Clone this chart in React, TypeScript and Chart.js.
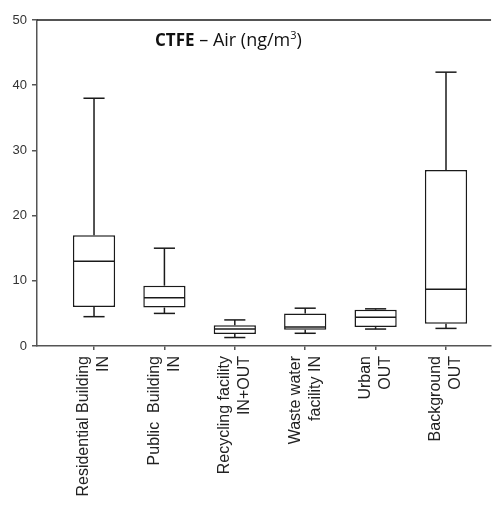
import React, { useEffect, useRef } from "react";
import { Chart, registerables } from "chart.js";

Chart.register(...registerables);

// ---- data ----
const categories: string[][] = [
  ["Residential Building", "IN"],
  ["Public  Building", "IN"],
  ["Recycling facility", "IN+OUT"],
  ["Waste water", "facility IN"],
  ["Urban", "OUT"],
  ["Background", "OUT"],
];
const positions = [1, 2, 3, 4, 5, 6];
const whiskerLow = [4.5, 5.0, 1.3, 1.95, 2.6, 2.7];
const q1 = [6.0, 5.9, 1.85, 2.5, 2.9, 3.4];
const median = [13.0, 7.4, 2.6, 2.9, 4.4, 8.7];
const q3 = [17.0, 9.25, 3.2, 5.0, 5.57, 27.0];
const whiskerHigh = [38.0, 15.0, 4.0, 5.8, 5.7, 42.0];
const yTicks = [0, 10, 20, 30, 40, 50];

// ---- styles ----
const BOX_WIDTH = 0.6; // in x units
const LINE = "#1a1a1a";
const AXIS = "#555555";
const FONT = "'Liberation Sans', Arial, sans-serif";

const boxParts = {
  id: "boxParts",
  afterDatasetsDraw(chart: any) {
    const { ctx, scales } = chart;
    const x = scales.x;
    const y = scales.y;
    ctx.save();
    ctx.strokeStyle = LINE;
    ctx.lineWidth = 1.5;
    const seg = (x1: number, y1: number, x2: number, y2: number) => {
      ctx.beginPath();
      ctx.moveTo(x1, y1);
      ctx.lineTo(x2, y2);
      ctx.stroke();
    };
    positions.forEach((p, i) => {
      const cx = x.getPixelForValue(p);
      const half = x.getPixelForValue(p + BOX_WIDTH / 2) - cx;
      const cap = half / 2;
      const ym = y.getPixelForValue(median[i]);
      seg(cx - half + 0.75, ym, cx + half - 0.75, ym);
      const yq3 = y.getPixelForValue(q3[i]);
      const yhi = y.getPixelForValue(whiskerHigh[i]);
      const yq1 = y.getPixelForValue(q1[i]);
      const ylo = y.getPixelForValue(whiskerLow[i]);
      seg(cx, yq3, cx, yhi);
      seg(cx - cap, yhi, cx + cap, yhi);
      seg(cx, yq1, cx, ylo);
      seg(cx - cap, ylo, cx + cap, ylo);
    });
    ctx.restore();
  },
};

const frameAndTitle = {
  id: "frameAndTitle",
  afterDraw(chart: any) {
    const { ctx, chartArea } = chart;
    ctx.save();
    ctx.strokeStyle = LINE;
    ctx.lineWidth = 1.5;
    ctx.beginPath();
    ctx.moveTo(chartArea.left, chartArea.top);
    ctx.lineTo(chartArea.right, chartArea.top);
    ctx.stroke();

    ctx.fillStyle = "#111";
    ctx.textBaseline = "alphabetic";
    ctx.textAlign = "left";
    let tx = chartArea.left + 118;
    const ty = chartArea.top + 26;
    ctx.font = "bold 17px 'Open Sans', sans-serif";
    ctx.fillText("CTFE", tx, ty);
    tx += ctx.measureText("CTFE").width;
    ctx.font = "18px 'Open Sans', sans-serif";
    const mid = " \u2013 Air (ng/m";
    ctx.fillText(mid, tx, ty);
    tx += ctx.measureText(mid).width;
    ctx.font = "11px 'Open Sans', sans-serif";
    ctx.fillText("3", tx, ty - 7);
    tx += ctx.measureText("3").width;
    ctx.font = "18px 'Open Sans', sans-serif";
    ctx.fillText(")", tx, ty);
    ctx.restore();
  },
};

export default function App() {
  const ref = useRef<HTMLCanvasElement | null>(null);

  useEffect(() => {
    if (!ref.current) return;
    const chart = new Chart(ref.current, {
      type: "bar",
      data: {
        datasets: [
          {
            data: positions.map((p, i) => ({ x: p, y: [q1[i], q3[i]] })) as any,
            backgroundColor: "#ffffff",
            borderColor: LINE,
            borderWidth: 1.5,
            borderSkipped: false,
            categoryPercentage: 1,
            barPercentage: BOX_WIDTH,
          },
        ],
      },
      options: {
        animation: false,
        responsive: true,
        maintainAspectRatio: false,
        layout: { padding: { top: 20, left: 0, right: 0, bottom: 0 } },
        plugins: {
          legend: { display: false },
          tooltip: { enabled: false },
          title: { display: false },
        },
        scales: {
          x: {
            type: "linear",
            min: 0.19,
            max: 6.64,
            offset: false,
            afterBuildTicks: (s: any) => {
              s.ticks = positions.map((v) => ({ value: v }));
            },
            ticks: {
              autoSkip: false,
              minRotation: 90,
              maxRotation: 90,
              labelOffset: -10,
              padding: 6,
              color: "#222",
              font: { family: FONT, size: 16, lineHeight: 1.25 },
              callback: (v: any) => {
                const idx = positions.indexOf(Number(v));
                return idx >= 0 ? categories[idx] : "";
              },
            },
            grid: {
              offset: false,
              drawOnChartArea: false,
              drawTicks: true,
              tickLength: 4,
              color: AXIS,
              lineWidth: 1.5,
            },
            border: { color: AXIS, width: 1.5 },
            afterFit: (s: any) => {
              s.height = 159;
            },
          },
          y: {
            min: 0,
            max: 50,
            afterBuildTicks: (s: any) => {
              s.ticks = yTicks.map((v) => ({ value: v }));
            },
            ticks: {
              padding: 5,
              color: "#333",
              font: { family: FONT, size: 13 },
            },
            grid: {
              drawOnChartArea: false,
              drawTicks: true,
              tickLength: 5,
              color: AXIS,
              lineWidth: 1.5,
            },
            border: { color: AXIS, width: 1.5 },
            afterFit: (s: any) => {
              s.width = 37;
            },
          },
        },
      } as any,
      plugins: [boxParts, frameAndTitle],
    });
    return () => chart.destroy();
  }, []);

  return (
    <div style={{ position: "absolute", left: 0, top: 0, width: 492, height: 505 }}>
      <canvas ref={ref} />
    </div>
  );
}
